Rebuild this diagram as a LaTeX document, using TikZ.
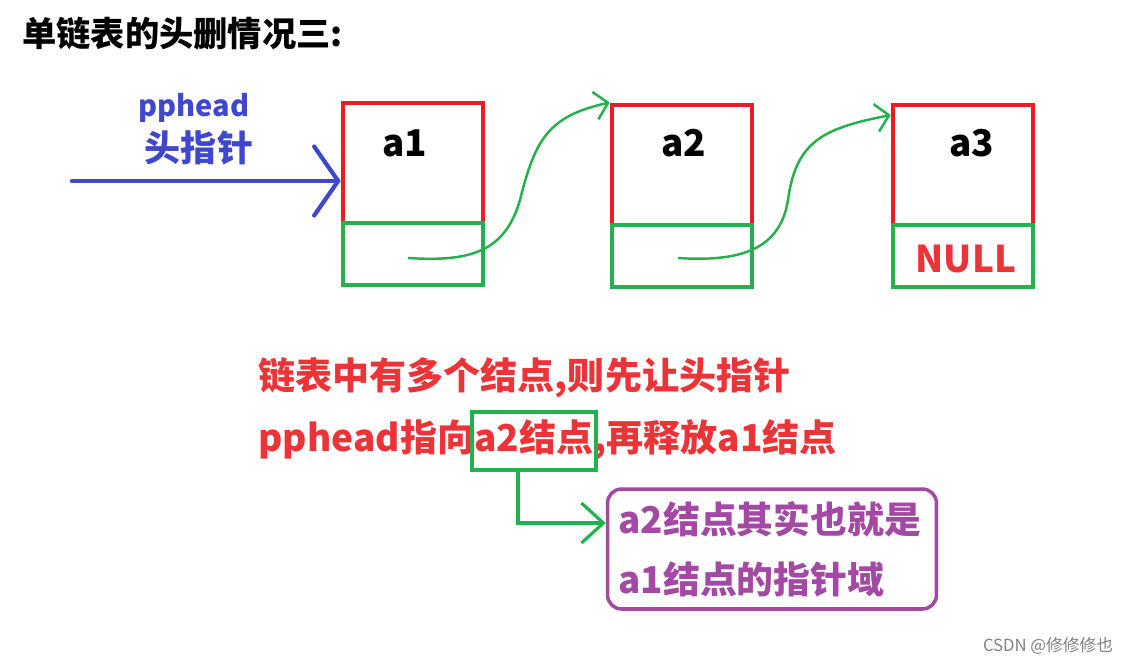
\documentclass[tikz,border=0pt]{standalone}
\usepackage{fontspec}
\setmainfont{Noto Sans CJK SC}
\usepackage{xcolor}
\definecolor{llred}{RGB}{237,28,36}
\definecolor{lltext}{RGB}{236,52,56}
\definecolor{llgreen}{RGB}{34,177,76}
\definecolor{llblue}{RGB}{63,72,204}
\definecolor{llpurple}{RGB}{163,73,164}
\usetikzlibrary{arrows.meta,positioning,calc}

\begin{document}
\begin{tikzpicture}[x=0.02cm,y=-0.02cm,
  databox/.style={draw=llred,line width=2.6pt,minimum width=2.8cm,minimum height=2.4cm,inner sep=0pt},
  ptrbox/.style={draw=llgreen,line width=2.3pt,minimum width=2.8cm,minimum height=1.24cm,inner sep=0pt},
  val/.style={font=\fontsize{21}{25}\selectfont\bfseries},
  link/.style={llgreen,line width=1.4pt,-{Straight Barb[length=0.26cm,width=0.56cm]}},
  redtext/.style={lltext,font=\fontsize{21.1}{26}\selectfont\bfseries,anchor=west,inner sep=0pt}]
  \useasboundingbox (0,0) rectangle (1131,664);
  % Title
  \node[anchor=west,inner sep=0pt,font=\fontsize{19.5}{24}\selectfont\bfseries] (title) at (22,34) {单链表的头删情况三:};
  % Nodes
  \node[databox] (n1) at (413,163) {};
  \node[databox] (n2) at (682,165) {};
  \node[databox] (n3) at (963,165) {};
  \node[ptrbox] (p1) at (413,254) {};
  \node[ptrbox] (p2) at (682,256) {};
  \node[ptrbox] (p3) at (963,256) {};
  \node[val] (v1) at (405,143) {a1};
  \node[val] (v2) at (684,143) {a2};
  \node[val] (v3) at (972,143) {a3};
  \node[val,lltext] (null) at (966,259) {NULL};
  % Head pointer
  \coordinate (hstart) at (72,181);
  \node[llblue,font=\fontsize{16.5}{20}\selectfont\bfseries] (pp) at (194,108) {pphead};
  \node[llblue,font=\fontsize{20.5}{24}\selectfont\bfseries] (hp) at (199,148) {头指针};
  \draw[llblue,line width=2.4pt,line cap=round,-{Straight Barb[length=0.48cm,width=1.38cm,line cap=round]}] (hstart) -- (n1.west |- hstart);
  % Links
  \coordinate (s1) at (408,258);
  \coordinate (s2) at (678,258);
  \draw[link] (s1) .. controls (470,262) and (505,252) .. (520,200) .. controls (535,140) and (548,116) .. ([yshift=1.25cm]n2.west);
  \draw[link] (s2) .. controls (740,262) and (780,250) .. (788,200) .. controls (796,140) and (825,128) .. ([yshift=1.0cm]n3.west);
  % Explanation
  \node[redtext] (l1) at (258,378) {链表中有多个结点,则先让头指针};
  \node[redtext] (l2) at (258,440) {pphead指向a2结点,再释放a1结点};
  \node[draw=llgreen,line width=2.1pt,minimum width=2.48cm,minimum height=1.16cm,inner sep=0pt] (hl) at (534,441) {};
  \node[draw=llpurple,line width=2pt,rounded corners=8pt,minimum width=6.58cm,minimum height=2.4cm,inner sep=0pt] (note) at (772,549) {};
  \node[llpurple,font=\fontsize{21}{26}\selectfont\bfseries,anchor=west,inner sep=0pt] (m1) at (618,519) {a2结点其实也就是};
  \node[llpurple,font=\fontsize{21}{26}\selectfont\bfseries,anchor=west,inner sep=0pt] (m2) at (618,580) {a1结点的指针域};
  \draw[llgreen,line width=1.8pt,-{Straight Barb[length=0.44cm,width=0.8cm]}] ([xshift=-0.32cm]hl.south) |- ([yshift=0.52cm]note.west);
  % Watermark
  \node[gray,font=\fontsize{9.5}{11}\selectfont] (wm) at (1048,646) {CSDN @修修修也};
\end{tikzpicture}
\end{document}
